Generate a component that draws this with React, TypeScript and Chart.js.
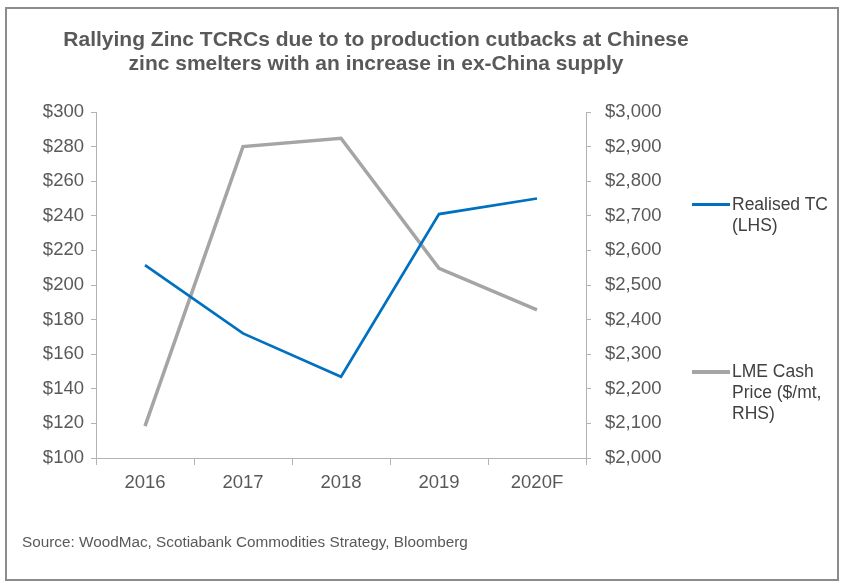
import React, { useEffect, useRef } from "react";
import { Chart, registerables } from "chart.js";

Chart.register(...registerables);

const categories = ["2016", "2017", "2018", "2019", "2020F"];
const realisedTC = [211.5, 172, 147, 241, 250];
const lmeCash = [2092, 2900, 2924, 2548, 2428];
const titleLines = [
  "Rallying Zinc TCRCs due to to production cutbacks at Chinese",
  "zinc smelters with an increase in ex-China supply",
];
const sourceText = "Source: WoodMac, Scotiabank Commodities Strategy, Bloomberg";
const legendTC = ["Realised TC", "(LHS)"];
const legendLME = ["LME Cash", "Price ($/mt,", "RHS)"];

const FONT = "'Liberation Sans', Arial, sans-serif";
const TEXT = "#595959";
const AXIS = "#b3b3b3";
const BLUE = "#0070C0";
const GRAY = "#A5A5A5";
const TICK_SIZE = 18.5;

export default function App() {
  const ref = useRef<HTMLCanvasElement | null>(null);

  useEffect(() => {
    if (!ref.current) return;
    const chart = new Chart(ref.current, {
      type: "line",
      data: {
        labels: categories,
        datasets: [
          {
            label: "Realised TC (LHS)",
            data: realisedTC,
            borderColor: BLUE,
            backgroundColor: BLUE,
            borderWidth: 2.7,
            pointRadius: 0,
            tension: 0,
            yAxisID: "y",
          },
          {
            label: "LME Cash Price ($/mt, RHS)",
            data: lmeCash,
            borderColor: GRAY,
            backgroundColor: GRAY,
            borderWidth: 3.5,
            pointRadius: 0,
            tension: 0,
            yAxisID: "y1",
          },
        ],
      },
      options: {
        responsive: false,
        animation: false,
        devicePixelRatio: 1,
        layout: { padding: { top: 112, left: 0, right: 160, bottom: 0 } },
        plugins: { legend: { display: false }, tooltip: { enabled: false }, title: { display: false } },
        scales: {
          x: {
            offset: true,
            grid: { offset: true, drawOnChartArea: false, color: AXIS, tickLength: 7 },
            border: { color: AXIS },
            ticks: { color: TEXT, font: { family: FONT, size: TICK_SIZE }, padding: 7 },
            afterFit: (s: any) => {
              s.height = 127;
            },
          },
          y: {
            position: "left",
            min: 100,
            max: 300,
            ticks: {
              stepSize: 20,
              color: TEXT,
              font: { family: FONT, size: TICK_SIZE },
              padding: 7,
              callback: (v: any) => "$" + v,
            },
            grid: { drawOnChartArea: false, color: AXIS, tickLength: 5 },
            border: { color: AXIS },
            afterFit: (s: any) => {
              s.width = 96;
            },
          },
          y1: {
            position: "right",
            min: 2000,
            max: 3000,
            ticks: {
              stepSize: 100,
              color: TEXT,
              font: { family: FONT, size: TICK_SIZE },
              padding: 14,
              callback: (v: any) => "$" + Number(v).toLocaleString("en-US"),
            },
            grid: { drawOnChartArea: false, color: AXIS, tickLength: 5 },
            border: { color: AXIS },
            afterFit: (s: any) => {
              s.width = 100;
            },
          },
        },
      },
    });
    return () => chart.destroy();
  }, []);

  const legendText: React.CSSProperties = {
    position: "absolute",
    left: 732,
    fontFamily: FONT,
    fontSize: 17.5,
    lineHeight: "21px",
    color: "#404040",
    whiteSpace: "nowrap",
  };

  return (
    <div
      style={{
        position: "absolute",
        left: 0,
        top: 0,
        width: 846,
        height: 585,
        background: "#fff",
        overflow: "hidden",
      }}
    >
      <canvas ref={ref} width={846} height={585} style={{ position: "absolute", left: 0, top: 0, width: 846, height: 585 }} />
      <div
        style={{
          position: "absolute",
          left: 5,
          top: 7,
          width: 830,
          height: 570,
          border: "2px solid #8c8c8c",
          pointerEvents: "none",
        }}
      />
      <div
        style={{
          position: "absolute",
          left: 76,
          width: 600,
          top: 27,
          textAlign: "center",
          fontFamily: FONT,
          fontWeight: "bold",
          fontSize: 21,
          lineHeight: "24px",
          color: TEXT,
        }}
      >
        {titleLines.map((t, i) => (
          <div key={i} style={{ whiteSpace: "nowrap", display: "flex", justifyContent: "center" }}>
            <span>{t}</span>
          </div>
        ))}
      </div>
      <div style={{ position: "absolute", left: 692, top: 203, width: 38, height: 3, background: BLUE }} />
      <div style={{ ...legendText, top: 194 }}>
        {legendTC.map((t, i) => (
          <div key={i}>{t}</div>
        ))}
      </div>
      <div style={{ position: "absolute", left: 692, top: 370, width: 38, height: 4, background: GRAY }} />
      <div style={{ ...legendText, top: 361 }}>
        {legendLME.map((t, i) => (
          <div key={i}>{t}</div>
        ))}
      </div>
      <div
        style={{
          position: "absolute",
          left: 22,
          top: 533,
          fontFamily: FONT,
          fontSize: 15.3,
          color: TEXT,
          whiteSpace: "nowrap",
        }}
      >
        {sourceText}
      </div>
    </div>
  );
}
